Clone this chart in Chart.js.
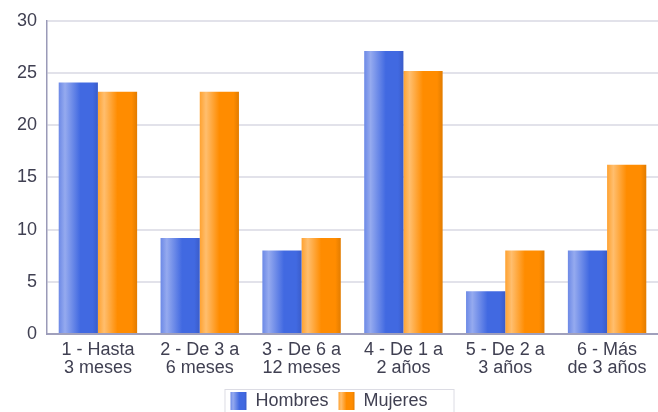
<!DOCTYPE html>
<html>
<head>
<meta charset="utf-8">
<script src="https://cdn.jsdelivr.net/npm/chart.js@4"></script>
<style>
  html, body { margin: 0; padding: 0; background: #fff; }
  #wrap { width: 658px; height: 412px; position: relative; }
</style>
</head>
<body>
<div id="wrap"><canvas id="chart"></canvas></div>
<script>
// Data
const categories = [
  ['1 - Hasta', '3 meses'],
  ['2 - De 3 a', '6 meses'],
  ['3 - De 6 a', '12 meses'],
  ['4 - De 1 a', '2 años'],
  ['5 - De 2 a', '3 años'],
  ['6 - Más', 'de 3 años']
];
const hombres = [24.1, 9.2, 8.0, 27.1, 4.1, 8.0];
const mujeres = [23.2, 23.2, 9.2, 25.2, 8.0, 16.2];
const yTicks = [0, 5, 10, 15, 20, 25, 30];

const CAT_PCT = 0.77;
const FONT = '"Liberation Sans", Arial, sans-serif';

// cylinder-like shading, left to right
const stops = {
  blue: [[0, '#6c89e6'], [0.16, '#95aaef'], [0.55, '#4169e1'], [0.86, '#4169e1'], [1, '#3a5cc9']],
  orange: [[0, '#ffa230'], [0.16, '#ffbe6e'], [0.5, '#ff8c00'], [0.86, '#ff8c00'], [1, '#e27c00']]
};

function hGradient(ctx, left, width, list) {
  const g = ctx.createLinearGradient(left, 0, left + width, 0);
  list.forEach(s => g.addColorStop(s[0], s[1]));
  return g;
}

function barFill(name, flat) {
  return (c) => {
    const chart = c.chart;
    const xs = chart.scales.x;
    if (!chart.chartArea || !xs || c.dataIndex === undefined) return flat;
    const center = xs.getPixelForValue(c.dataIndex);
    const catW = (xs.width / categories.length) * CAT_PCT;
    const w = catW / 2;
    const left = center - catW / 2 + c.datasetIndex * w;
    return hGradient(chart.ctx, left, w, stops[name]);
  };
}

const legendBoxes = {
  id: 'legendBoxes',
  afterDraw(chart) {
    const lg = chart.legend;
    if (!lg || !lg.legendHitBoxes) return;
    const ctx = chart.ctx;
    const hb = lg.legendHitBoxes;
    const names = ['blue', 'orange'];
    ctx.save();
    hb.forEach((b, i) => {
      ctx.fillStyle = hGradient(ctx, b.left, 16, stops[names[i]]);
      ctx.fillRect(b.left, b.top, 16, 18);
    });
    // frame round the legend
    const last = hb[hb.length - 1];
    const left = hb[0].left - 6;
    const right = last.left + last.width + 26;
    const top = hb[0].top - 3;
    ctx.strokeStyle = '#dcdce4';
    ctx.lineWidth = 1;
    ctx.strokeRect(left + 0.5, top + 0.5, right - left, 24);
    ctx.restore();
  }
};

new Chart(document.getElementById('chart'), {
  type: 'bar',
  data: {
    labels: categories,
    datasets: [
      { label: 'Hombres', data: hombres, backgroundColor: barFill('blue', '#4169e1') },
      { label: 'Mujeres', data: mujeres, backgroundColor: barFill('orange', '#ff8c00') }
    ]
  },
  options: {
    responsive: true,
    maintainAspectRatio: false,
    animation: false,
    devicePixelRatio: 1,
    categoryPercentage: CAT_PCT,
    barPercentage: 1.0,
    borderWidth: 0,
    layout: { padding: { top: 19, right: 0, left: 0, bottom: -8 } },
    plugins: {
      tooltip: { enabled: false },
      legend: {
        position: 'bottom',
        labels: {
          boxWidth: 16,
          boxHeight: 18,
          padding: 10,
          color: '#404052',
          font: { family: FONT, size: 18, lineHeight: 1 },
          generateLabels: (chart) => chart.data.datasets.map((ds, i) => ({
            text: ds.label,
            fillStyle: 'rgba(0,0,0,0)',
            strokeStyle: 'rgba(0,0,0,0)',
            lineWidth: 0,
            datasetIndex: i,
            fontColor: '#404052'
          }))
        }
      }
    },
    scales: {
      x: {
        grid: { display: false, drawTicks: false },
        border: { display: true, color: '#a0a0bc', width: 2 },
        ticks: {
          color: '#404052',
          padding: 7,
          maxRotation: 0,
          autoSkip: false,
          font: { family: FONT, size: 18, lineHeight: 1 }
        },
        afterFit: (s) => { s.height = 48; }
      },
      y: {
        min: 0,
        max: 30,
        afterBuildTicks: (s) => { s.ticks = yTicks.map(v => ({ value: v })); },
        grid: { color: '#e2e2ea', lineWidth: 2, drawTicks: false },
        border: { display: true, color: '#9a9ab8', width: 1.5 },
        ticks: {
          color: '#404052',
          padding: 10,
          font: { family: FONT, size: 18 }
        },
        afterFit: (s) => { s.width = 47; }
      }
    }
  },
  plugins: [legendBoxes]
});
</script>
</body>
</html>
